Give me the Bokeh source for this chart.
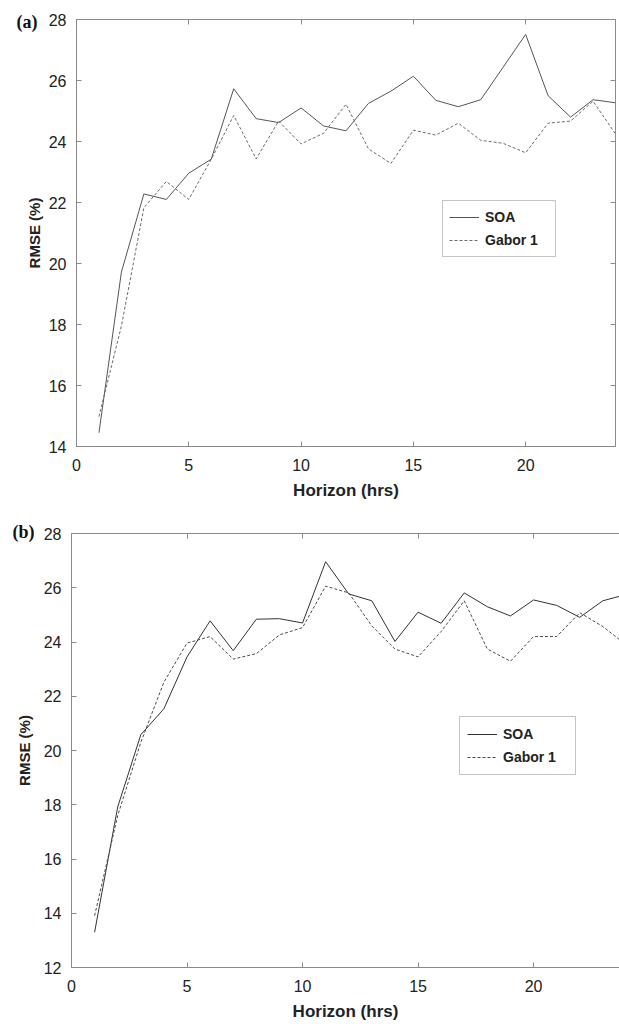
from bokeh.plotting import figure
from bokeh.models import (LinearAxis, SingleIntervalTicker, Range1d, Legend,
                          LegendItem, Label)
from bokeh.layouts import column, row
from bokeh.embed import file_html
from bokeh.resources import INLINE

# ---------------- data ----------------
horizon = list(range(1, 25))

soa_a = [14.45, 19.72, 22.28, 22.10, 22.96, 23.42, 25.73, 24.75, 24.62, 25.10,
         24.51, 24.35, 25.25, 25.65, 26.14, 25.35, 25.14, 25.37, 26.44, 27.51,
         25.50, 24.80, 25.37, 25.27]
gabor_a = [14.98, 17.95, 21.83, 22.69, 22.10, 23.42, 24.85, 23.43, 24.67, 23.92,
           24.27, 25.22, 23.76, 23.28, 24.37, 24.21, 24.60, 24.04, 23.94, 23.63,
           24.60, 24.67, 25.32, 24.25]

soa_b = [13.30, 17.92, 20.58, 21.54, 23.45, 24.78, 23.68, 24.84, 24.86, 24.70,
         26.96, 25.77, 25.52, 24.02, 25.10, 24.69, 25.81, 25.30, 24.96, 25.55,
         25.35, 24.91, 25.52, 25.75]
gabor_b = [13.91, 17.60, 20.30, 22.52, 23.96, 24.20, 23.37, 23.57, 24.26, 24.53,
           26.06, 25.81, 24.59, 23.74, 23.45, 24.39, 25.52, 23.74, 23.29, 24.20,
           24.20, 25.08, 24.57, 23.90]

series_names = ["SOA", "Gabor 1"]
panel_tags = ["(a)", "(b)"]
x_label = "Horizon (hrs)"
y_label = "RMSE (%)"

AX = "#8a8a8a"
TXT = "#222222"
SANS = "Liberation Sans"


def style_axis(ax, labels=True, standoff=8, label_standoff=10, label_size="16px"):
    ax.axis_line_color = AX
    ax.major_tick_line_color = AX
    ax.major_tick_in = 5
    ax.major_tick_out = 0
    ax.minor_tick_line_color = None
    if labels:
        ax.major_label_text_font = SANS
        ax.major_label_text_font_size = "16px"
        ax.major_label_text_color = TXT
        ax.major_label_standoff = standoff
        ax.axis_label_text_font = SANS
        ax.axis_label_text_font_style = "bold"
        ax.axis_label_text_font_size = label_size
        ax.axis_label_text_color = TXT
        ax.axis_label_standoff = label_standoff
    else:
        ax.major_label_text_font_size = "0px"
        ax.major_label_text_color = None
        ax.major_label_standoff = 0


def make_fig(soa, gabor, y0, x_end, height, mb_left, mb_top, mb_bottom,
             ylab_standoff, legend_loc, label_w, pad, tag, tag_side, tag_xy,
             soa_col, gab_col, right_axis):
    p = figure(width=619, height=height, output_backend="svg",
               toolbar_location=None, x_range=Range1d(0, x_end),
               y_range=Range1d(y0, 28), min_border_left=mb_left,
               min_border_right=0, min_border_top=mb_top,
               min_border_bottom=mb_bottom, x_axis_location=None,
               y_axis_location=None)
    p.outline_line_color = None
    p.xgrid.grid_line_color = None
    p.ygrid.grid_line_color = None
    p.background_fill_color = "white"
    p.border_fill_color = "white"

    xb = LinearAxis(ticker=SingleIntervalTicker(interval=5), axis_label=x_label)
    style_axis(xb, True, 8, 7, "17px")
    p.add_layout(xb, "below")
    yl = LinearAxis(ticker=SingleIntervalTicker(interval=2), axis_label=y_label)
    style_axis(yl, True, 6, ylab_standoff, "15px")
    p.add_layout(yl, "left")
    xt = LinearAxis(ticker=SingleIntervalTicker(interval=5))
    style_axis(xt, False)
    p.add_layout(xt, "above")
    if right_axis:
        yr = LinearAxis(ticker=SingleIntervalTicker(interval=2))
        style_axis(yr, False)
        p.add_layout(yr, "right")

    r1 = p.line(horizon, soa, line_color=soa_col, line_width=1)
    r2 = p.line(horizon, gabor, line_color=gab_col, line_width=1,
                line_dash="3 2")

    leg = Legend(items=[LegendItem(label=series_names[0], renderers=[r1]),
                        LegendItem(label=series_names[1], renderers=[r2])],
                 location=legend_loc)
    leg.border_line_color = "#8a8a8a"
    leg.border_line_width = 1
    leg.background_fill_color = "white"
    leg.background_fill_alpha = 1
    leg.label_text_font = SANS
    leg.label_text_font_style = "bold"
    leg.label_text_font_size = "14px"
    leg.label_text_color = TXT
    leg.glyph_width = 30
    leg.glyph_height = 20
    leg.label_height = 20
    leg.label_width = label_w
    leg.spacing = 3
    leg.padding = pad
    leg.label_standoff = 6
    leg.margin = 0
    p.add_layout(leg)

    # panel tag placed in a side panel (outside the frame, so not clipped)
    lab = Label(x=tag_xy[0], y=tag_xy[1], x_units="screen", y_units="screen",
                text=tag, text_font="Liberation Serif", text_font_style="bold",
                text_font_size="18px", text_color="#111111",
                text_baseline="middle", text_align="left")
    p.add_layout(lab, tag_side)
    return p


pa = make_fig(soa_a, gabor_a, 14, 24, 508, 76, 19, 62, 3,
              (366, 189), 64, 6, panel_tags[0], "left", (15, 424.5),
              "#555555", "#6a6a6a", True)
pb = make_fig(soa_b, gabor_b, 12, 23.72, 515, 71, 25, 53, 8,
              (388, 192), 65, 7, panel_tags[1], "above", (-59, -2),
              "#333333", "#4a4a4a", False)

layout = column(row(pa), row(pb), spacing=0)
open("out.html", "w").write(file_html(layout, INLINE))
